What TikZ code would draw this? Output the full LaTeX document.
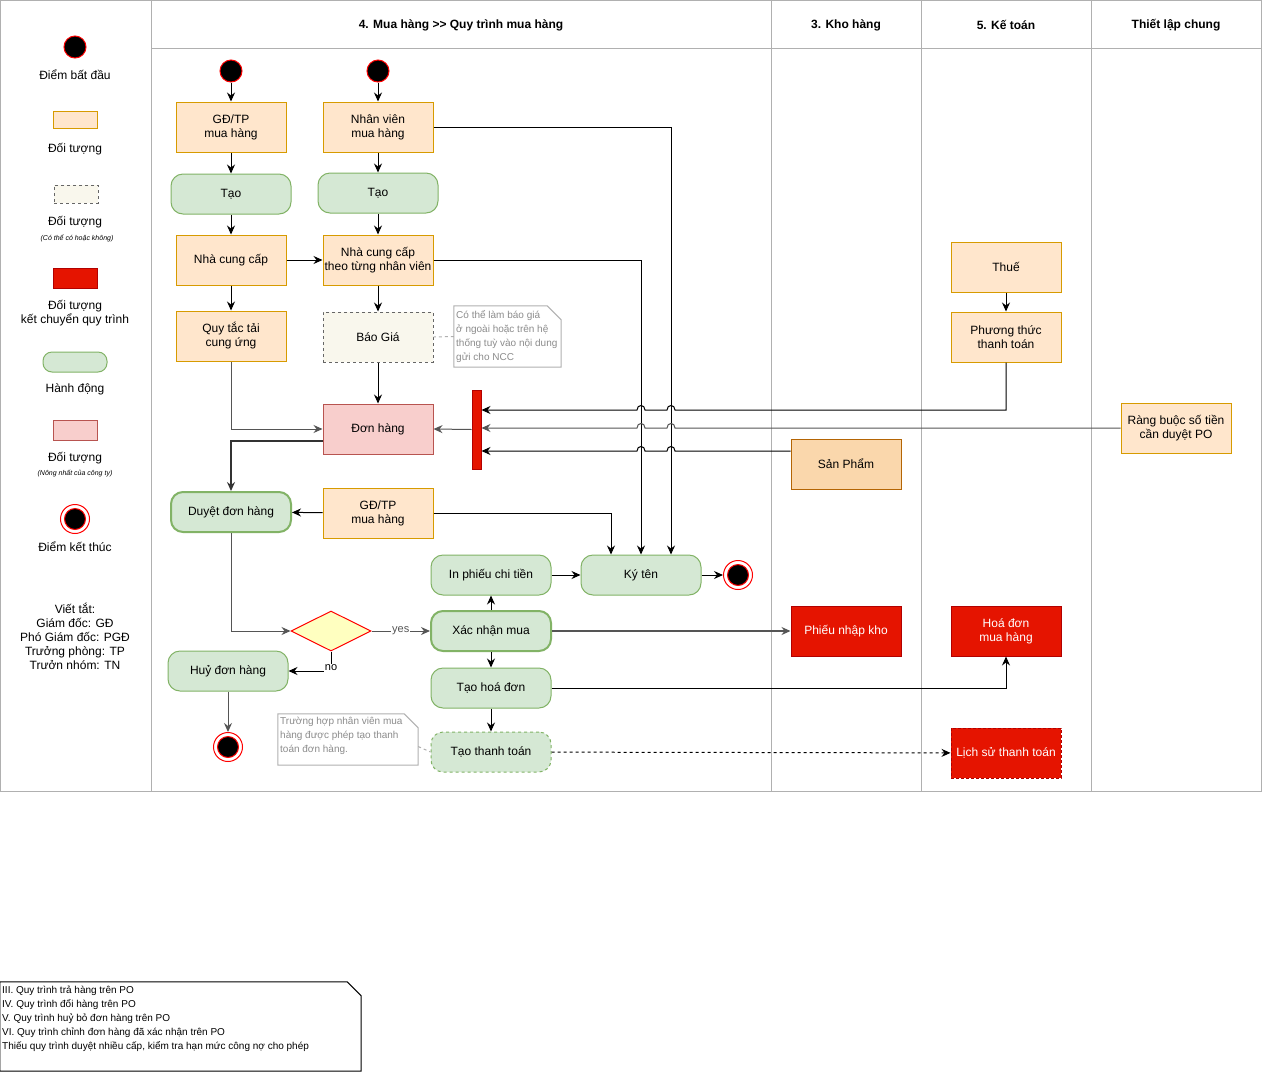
\documentclass[tikz,border=0pt]{standalone}
\usepackage{fontspec}
\setmainfont{Liberation Sans}
\usetikzlibrary{shapes.geometric,arrows.meta}
\definecolor{orgF}{HTML}{FFE6CC}
\definecolor{orgD}{HTML}{D79B00}
\definecolor{grnF}{HTML}{D5E8D4}
\definecolor{grnD}{HTML}{82B366}
\definecolor{pnkF}{HTML}{F8CECC}
\definecolor{pnkD}{HTML}{B85450}
\definecolor{redF}{HTML}{E51400}
\definecolor{redD}{HTML}{B20000}
\definecolor{spF}{HTML}{FAD7AC}
\definecolor{spD}{HTML}{B46504}
\definecolor{optF}{HTML}{F9F7ED}
\definecolor{optD}{HTML}{666666}
\definecolor{poolC}{HTML}{B0B0B0}
\definecolor{noteT}{HTML}{8C8C8C}
\definecolor{diaF}{HTML}{FFFFC0}
\definecolor{edgeG}{HTML}{555555}
\begin{document}
\begin{tikzpicture}[x=1pt,y=-1pt,
  font=\fontsize{12}{14}\selectfont,
  pool/.style={draw=poolC, line width=1pt},
  obj/.style={rectangle, draw=orgD, fill=orgF, line width=1pt, minimum width=110, minimum height=50, inner sep=0, align=center},
  act/.style={rectangle, rounded corners=12, draw=grnD, fill=grnF, line width=1pt, minimum width=120, minimum height=40, inner sep=0, align=center},
  opt/.style={rectangle, draw=optD, fill=optF, line width=1pt, dash pattern=on 3pt off 3pt, minimum width=110, minimum height=50, inner sep=0, align=center},
  pinkn/.style={rectangle, draw=pnkD, fill=pnkF, line width=1pt, minimum width=110, minimum height=50, inner sep=0, align=center},
  redn/.style={rectangle, draw=redD, fill=redF, line width=1pt, minimum width=110, minimum height=50, inner sep=0, align=center, text=white},
  spn/.style={rectangle, draw=spD, fill=spF, line width=1pt, minimum width=110, minimum height=50, inner sep=0, align=center},
  barn/.style={rectangle, draw=redD, fill=redF, line width=1pt, minimum width=9, minimum height=79, inner sep=0},
  startn/.style={circle, draw=red, fill=black, line width=1pt, minimum size=22, inner sep=0},
  endn/.style={circle, draw=red, fill=white, line width=1pt, minimum size=29, inner sep=0,
     path picture={\draw[red, fill=black, line width=1pt] (path picture bounding box.center) circle (10.5pt);}},
  dia/.style={diamond, aspect=2, draw=red, fill=diaF, line width=1pt, minimum width=80, minimum height=40, inner sep=0},
  hdr/.style={font=\fontsize{12}{14}\selectfont\bfseries},
  small/.style={font=\fontsize{7}{8}\selectfont\itshape},
  notetext/.style={font=\fontsize{10}{14}\selectfont, text=noteT, align=left, inner sep=0, anchor=north west},
  notebox/.style={rectangle, draw=none, inner sep=0},
  notec/.style={draw=poolC, line width=1pt},
  notel/.style={draw=poolC, line width=1pt, dash pattern=on 3pt off 3pt},
  arr/.style={-{Stealth[length=9pt,width=8pt,inset=3pt]}, line width=1pt},
  lbl/.style={fill=white, inner sep=1pt, font=\fontsize{11}{12}\selectfont}
]
\useasboundingbox (0,0) rectangle (1262,1072);
\fill[white] (0,0) rectangle (1262,1072);

% pools
\draw[pool] (0.5,0.5) rectangle (1261.5,791);
\draw[pool] (151,0.5) -- (151,791);
\draw[pool] (771,0.5) -- (771,791);
\draw[pool] (921,0.5) -- (921,791);
\draw[pool] (1091,0.5) -- (1091,791);
\draw[pool] (151,48) -- (1261.5,48);
\node[hdr] (h1) at (461,25) {4. Mua hàng >{}> Quy trình mua hàng};
\node[hdr] (h2) at (846,25) {3. Kho hàng};
\node[hdr] (h3) at (1006,25) {5. Kế toán};
\node[hdr] (h4) at (1176,25) {Thiết lập chung};

% legend
\node[startn] (l1) at (75,47) {};
\node (l1t) at (75,75) {Điểm bất đầu};
\node[obj, minimum width=44, minimum height=17] (l2) at (75,120) {};
\node (l2t) at (75,149) {Đối tượng};
\node[opt, minimum width=44, minimum height=18] (l3) at (76,194) {};
\node (l3t) at (75,222) {Đối tượng};
\node[small] (l3s) at (77,238) {(Có thể có hoặc không)};
\node[redn, minimum width=44, minimum height=20] (l4) at (75,278) {};
\node[align=center] (l4t) at (75,313) {Đối tượng\\kết chuyển quy trình};
\node[act, minimum width=64, minimum height=20, rounded corners=9] (l5) at (75,362) {};
\node (l5t) at (75,389) {Hành động};
\node[pinkn, minimum width=44, minimum height=20] (l6) at (75,430) {};
\node (l6t) at (75,458) {Đối tượng};
\node[small] (l6s) at (75,474) {(Nông nhất của công ty)};
\node[endn] (l7) at (75,519) {};
\node (l7t) at (75,547) {Điểm kết thúc};
\node[align=center] (l8) at (75,636) {Viết tắt:\\Giám đốc: GĐ\\Phó Giám đốc: PGĐ\\Trưởng phòng: TP\\Trưởn nhóm: TN};

% main nodes
\node[startn] (s1) at (231,71) {};
\node[startn] (s2) at (378,71) {};
\node[obj] (gd1) at (231,127) {GĐ/TP\\mua hàng};
\node[obj] (nv) at (378,127) {Nhân viên\\mua hàng};
\node[act] (tao1) at (231,194) {Tạo};
\node[act] (tao2) at (378,193) {Tạo};
\node[obj] (ncc) at (231,260) {Nhà cung cấp};
\node[obj] (ncc2) at (378,260) {Nhà cung cấp\\theo từng nhân viên};
\node[obj] (qt) at (231,336) {Quy tắc tải\\cung ứng};
\node[opt] (bg) at (378,337) {Báo Giá};
\node[pinkn] (dh) at (378,429) {Đơn hàng};
\node[barn] (bar) at (476.5,429.5) {};
\node[spn] (sp) at (846,464) {Sản Phẩm};
\node[obj] (thue) at (1006,267) {Thuế};
\node[obj] (ptt) at (1006,337) {Phương thức\\thanh toán};
\node[obj] (rb) at (1176,428) {Ràng buộc số tiền\\cần duyệt PO};
\node[act, line width=2pt] (duyet) at (231,512) {Duyệt đơn hàng};
\node[obj] (gd2) at (378,513) {GĐ/TP\\mua hàng};
\node[act] (inp) at (491,575) {In phiếu chi tiền};
\node[act] (ky) at (641,575) {Ký tên};
\node[endn] (e1) at (738,575) {};
\node[dia] (dec) at (331,631) {};
\node[act, line width=2pt] (xn) at (491,631) {Xác nhận mua};
\node[act] (huy) at (228,671) {Huỷ đơn hàng};
\node[act] (thd) at (491,688) {Tạo hoá đơn};
\node[endn] (e2) at (228,747) {};
\node[act, dash pattern=on 3pt off 3pt] (ttt) at (491,752) {Tạo thanh toán};
\node[redn] (pnk) at (846,631) {Phiếu nhập kho};
\node[redn] (hd) at (1006,631) {Hoá đơn\\mua hàng};
\node[redn, dash pattern=on 3pt off 2pt, draw=redD] (ls) at (1006,753) {Lịch sử thanh toán};

% notes
\node[notebox, minimum width=107, minimum height=61] (n1) at (507.5,336.5) {};
\draw[notec] (n1.north west) -- ([xshift=-14pt]n1.north east) -- ([yshift=-14pt]n1.north east) -- (n1.south east) -- (n1.south west) -- cycle;
\node[notetext] (n1t) at (456,310) {Có thể làm báo giá\\ở ngoài hoặc trên hệ\\thống tuỳ vào nội dung\\gửi cho NCC};
\node[notebox, minimum width=140, minimum height=51] (n2) at (348,739.5) {};
\draw[notec] (n2.north west) -- ([xshift=-14pt]n2.north east) -- ([yshift=-14pt]n2.north east) -- (n2.south east) -- (n2.south west) -- cycle;
\node[notetext] (n2t) at (280,717) {Trường hợp nhân viên mua\\hàng được phép tạo thanh\\toán đơn hàng.};
\draw[notel] (n1.west) -- (bg.east);
\draw[notel] ([yshift=-7pt]n2.east) -- (ttt.west);

\node[notebox, minimum width=361, minimum height=89] (n3) at (180.5,1026.5) {};
\draw[line width=1pt] (n3.north west) -- ([xshift=-14pt]n3.north east) -- ([yshift=-14pt]n3.north east) -- (n3.south east) -- (n3.south west) -- cycle;
\node[notetext, text=black] (n3t) at (2,986) {III. Quy trình trả hàng trên PO\\IV. Quy trình đổi hàng trên PO\\V. Quy trình huỷ bỏ đơn hàng trên PO\\VI. Quy trình chỉnh đơn hàng đã xác nhận trên PO\\Thiếu quy trình duyệt nhiều cấp, kiểm tra hạn mức công nợ cho phép};

% edges
\draw[arr] (s1) -- (gd1);
\draw[arr] (s2) -- (nv);
\draw[arr] (gd1) -- (tao1);
\draw[arr] (nv) -- (tao2);
\draw[arr] (tao1) -- (ncc);
\draw[arr] (tao2) -- (ncc2);
\draw[arr] (ncc) -- (ncc2);
\draw[arr] (ncc) -- (qt);
\draw[arr] (ncc2) -- (bg);
\draw[arr] (bg) -- (dh);
\draw[arr, edgeG] (qt.south) |- (dh.west);
\draw[arr] (nv.east) -| ([xshift=30pt]ky.north);
\draw[arr] (ncc2.east) -| (ky.north);
\draw[arr] (gd2.east) -| ([xshift=-30pt]ky.north);
\draw[arr, edgeG] (bar.west) -- (dh.east);
\draw[arr] (ptt.south) |- (680,410) -- (675,410) .. controls (675,404) and (667,404) .. (667,410) -- (645,410) .. controls (645,404) and (637,404) .. (637,410) -- (bar.east |- 0,410);
\draw[arr, edgeG] (rb.west) -- (675,428) .. controls (675,422) and (667,422) .. (667,428) -- (645,428) .. controls (645,422) and (637,422) .. (637,428) -- (bar.east |- 0,428);
\draw[arr] ([yshift=13pt]sp.west) -- (675,451) .. controls (675,445) and (667,445) .. (667,451) -- (645,451) .. controls (645,445) and (637,445) .. (637,451) -- (bar.east |- 0,451);
\draw[arr, line width=2pt, draw=black!80] ([yshift=-12pt]dh.west) -| (duyet.north);
\draw[arr] (gd2) -- (duyet);
\draw[arr, edgeG] (duyet.south) |- (dec.west);
\draw[arr, edgeG] (dec.east) -- node[lbl] {yes} (xn.west);
\draw[arr] (dec.south) |- node[lbl, pos=0.5, yshift=3pt] {no} (huy.east);
\draw[arr, edgeG] (huy) -- (e2);
\draw[arr] (xn) -- (inp);
\draw[arr] (xn) -- (thd);
\draw[arr, edgeG, line width=1.5pt] (xn) -- (pnk);
\draw[arr] (inp) -- (ky);
\draw[arr] (ky) -- (e1);
\draw[arr] (thd.east) -| (hd.south);
\draw[arr] (thd) -- (ttt);
\draw[arr, dash pattern=on 3pt off 3pt] (ttt) -- (ls);
\draw[arr] (thue) -- (ptt);
\end{tikzpicture}
\end{document}
